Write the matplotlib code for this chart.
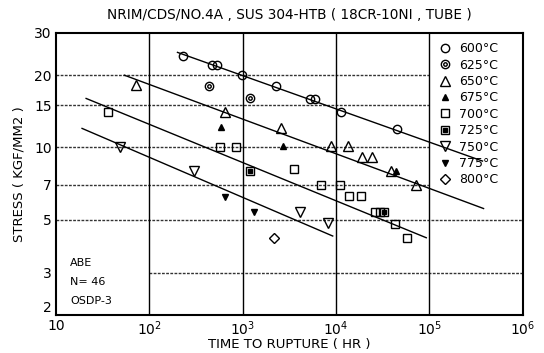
import numpy as np
import matplotlib
matplotlib.use("Agg")
import matplotlib.pyplot as plt
from matplotlib.lines import Line2D
from matplotlib.patches import Rectangle
from matplotlib.legend_handler import HandlerTuple

# rupture data (time in hr, stress in kgf/mm2)
t600 = [230, 470, 530, 990, 2250, 5300, 6000, 11400, 45000]
s600 = [24, 22, 22, 20, 18.1, 15.9, 15.9, 14, 11.9]
t625 = [440, 1200]
s625 = [18, 16]
t650 = [72, 640, 2600, 8800, 13500, 19000, 24000, 39000, 72000]
s650 = [18.2, 14.1, 12.1, 10.1, 10.1, 9.1, 9.1, 8.0, 7.0]
t675 = [590, 2700, 44000]
s675 = [12.2, 10.1, 8.0]
t700 = [36, 570, 840, 3580, 6900, 10900, 13700, 18600, 25800, 29300, 42300, 57300]
s700 = [14, 10, 10, 8.1, 7.0, 7.0, 6.25, 6.25, 5.4, 5.4, 4.8, 4.2]
t725 = [1200, 32300]
s725 = [8.0, 5.4]
t750 = [49, 300, 4150, 8150]
s750 = [10, 8.0, 5.4, 4.85]
t775 = [650, 1330]
s775 = [6.2, 5.4]
t800 = [2150]
s800 = [4.2]

# fitted master curves (end points)
fit600_t = [200, 370000]
fit600_s = [24.9, 8.77]
fit650_t = [54, 380000]
fit650_s = [20, 5.56]
fit700_t = [21, 92500]
fit700_s = [16, 4.2]
fit750_t = [19, 9200]
fit750_s = [12, 4.27]

yticks = [2, 3, 5, 7, 10, 15, 20, 30]
xticks = [10, 1e2, 1e3, 1e4, 1e5, 1e6]
xlabels = ["10", "$10^2$", "$10^3$", "$10^4$", "$10^5$", "$10^6$"]

plt.rcParams['font.family'] = ['DejaVu Sans']
fig = plt.figure(figsize=(5.44, 3.53), dpi=100)
ax = fig.add_axes([0.103, 0.1076, 0.858, 0.799])
ax.set_xscale('log')
ax.set_yscale('log')
ax.set_xlim(10, 1e6)
ax.set_ylim(2, 30)

# grid
for yv in [20, 15, 10, 7, 5]:
    ax.axhline(yv, color='#333333', lw=1.0, ls=(0, (2, 1)), zorder=1)
ax.hlines(3, 1e2, 1e6, color='#333333', lw=1.0, ls=(0, (2, 1)), zorder=1)

# legend background box
ax.add_patch(Rectangle((0.8, 0.42), 0.2, 0.58, transform=ax.transAxes,
                       facecolor='white', edgecolor='none', zorder=2))
for xv in [1e2, 1e3, 1e4, 1e5]:
    ax.axvline(xv, color='black', lw=1.0, zorder=2.5)

for ft, fs in [(fit600_t, fit600_s), (fit650_t, fit650_s),
               (fit700_t, fit700_s), (fit750_t, fit750_s)]:
    ax.plot(ft, fs, color='black', lw=1.0, zorder=3)

ms = 6
kw = dict(ls='none', color='black', mew=1.0, zorder=4)
ax.plot(t600, s600, marker='o', mfc='none', ms=ms, **kw)
ax.plot(t625, s625, marker='o', mfc='none', ms=ms, **kw)
ax.plot(t625, s625, marker='o', mfc='none', ms=2.5, **kw)
ax.plot(t650, s650, marker='^', mfc='none', ms=ms + 1, **kw)
ax.plot(t675, s675, marker='^', mfc='black', ms=ms - 1, **kw)
ax.plot(t700, s700, marker='s', mfc='none', ms=ms, **kw)
ax.plot(t725, s725, marker='s', mfc='none', ms=ms, **kw)
ax.plot(t725, s725, marker='s', mfc='black', ms=2.5, **kw)
ax.plot(t750, s750, marker='v', mfc='none', ms=ms + 1, **kw)
ax.plot(t775, s775, marker='v', mfc='black', ms=ms - 1, **kw)
ax.plot(t800, s800, marker='D', mfc='none', ms=ms - 0.5, **kw)

def mk(marker, fill='none', size=ms):
    return Line2D([], [], ls='none', marker=marker, color='black',
                  mfc=fill, ms=size, mew=1.0)

handles = [mk('o'),
           (mk('o'), mk('o', size=2.5)),
           mk('^', size=ms + 1),
           mk('^', 'black', ms - 1),
           mk('s'),
           (mk('s'), mk('s', 'black', 2.5)),
           mk('v', size=ms + 1),
           mk('v', 'black', ms - 1),
           mk('D', size=ms - 0.5)]
labels = ["600°C", "625°C", "650°C", "675°C", "700°C",
          "725°C", "750°C", "775°C", "800°C"]
leg = ax.legend(handles, labels, loc='upper left',
                bbox_to_anchor=(0.8, 1.0), frameon=False, fontsize=9,
                handler_map={tuple: HandlerTuple(ndivide=1, pad=0)},
                handlelength=1.0, handletextpad=0.6, labelspacing=0.27,
                borderaxespad=0.35)
leg.set_zorder(5)

ax.text(0.03, 0.174, "ABE", transform=ax.transAxes, fontsize=8)
ax.text(0.03, 0.106, "N= 46", transform=ax.transAxes, fontsize=8)
ax.text(0.03, 0.039, "OSDP-3", transform=ax.transAxes, fontsize=8)

ax.set_yticks(yticks)
ax.set_yticklabels([str(v) for v in yticks])
ax.yaxis.set_minor_locator(matplotlib.ticker.NullLocator())
ax.set_xticks(xticks)
ax.set_xticklabels(xlabels)
ax.xaxis.set_minor_locator(matplotlib.ticker.NullLocator())
ax.tick_params(length=0, labelsize=10, pad=3)
ax.tick_params(axis='x', pad=3)
ax.get_yticklabels()[0].set_va('bottom')
for sp in ax.spines.values():
    sp.set_linewidth(1.5)

ax.set_title("NRIM/CDS/NO.4A , SUS 304-HTB ( 18CR-10NI , TUBE )",
             fontsize=9.8, pad=10)
ax.set_ylabel("STRESS ( KGF/MM2 )", fontsize=9.5, labelpad=6)
ax.set_xlabel("TIME TO RUPTURE ( HR )", fontsize=9.5, labelpad=0)

fig.savefig("out.png", dpi=100)
